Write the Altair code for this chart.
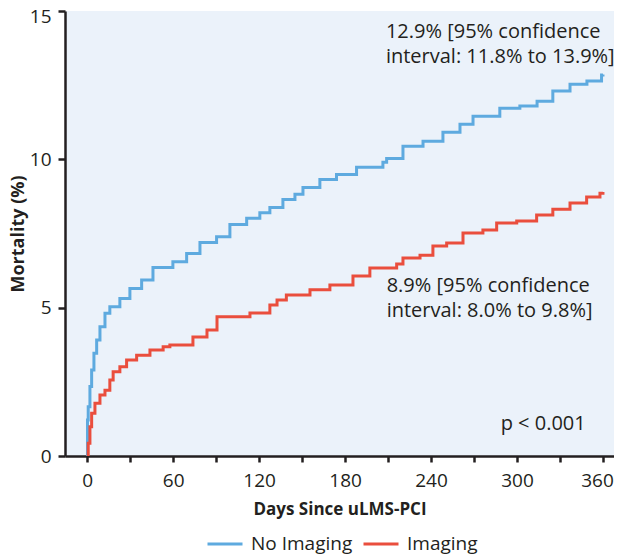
import altair as alt
import pandas as pd

# --- data ---
no_img_days = [0, 0.2, 0.7, 1.9, 3.1, 4.7, 6.6, 8.9, 12.4, 15.8, 22.8, 29.8, 38, 45.9, 59.8,
               69.4, 78.7, 90.3, 99.6, 111.3, 120.5, 127.5, 136.6, 145, 150.6, 162.4, 174, 188,
               206.4, 209, 220.4, 234.4, 248.3, 260.2, 269.3, 288, 302, 314, 325, 337, 348.8, 359, 360]
no_img_vals = [0, 1.21, 1.66, 2.34, 2.9, 3.46, 3.91, 4.36, 4.81, 5.03, 5.31, 5.65, 5.93, 6.35, 6.55,
               6.83, 7.2, 7.39, 7.8, 8.01, 8.2, 8.38, 8.65, 8.82, 9.05, 9.32, 9.49, 9.73,
               9.9, 10.03, 10.44, 10.61, 10.91, 11.18, 11.45, 11.72, 11.8, 11.96, 12.3, 12.53, 12.64, 12.84, 12.86]

img_days = [0, 0.7, 1.9, 3.1, 5.4, 8.9, 12.4, 15.8, 18.1, 22.8, 27.5, 34.5, 43.8, 53, 57.7,
            73.8, 83.6, 90.6, 113.6, 127.5, 132.5, 139, 155.5, 169.4, 185.5, 197.3, 216, 220.4,
            232.3, 241.3, 250.9, 262.3, 276.2, 285.8, 299.8, 313.7, 325, 337, 348.6, 357.9, 360]
img_vals = [0, 0.43, 0.99, 1.44, 1.78, 2.06, 2.22, 2.56, 2.84, 3.01, 3.24, 3.4, 3.57, 3.68, 3.74,
            4.01, 4.25, 4.69, 4.82, 5.09, 5.26, 5.43, 5.6, 5.76, 6.07, 6.34, 6.47, 6.67,
            6.77, 7.08, 7.18, 7.52, 7.62, 7.85, 7.92, 8.12, 8.32, 8.53, 8.73, 8.86, 8.9]

groups = ["No Imaging", "Imaging"]
colors = ["#5EAADF", "#EA4E3D"]
x_ticks = [0, 30, 60, 90, 120, 150, 180, 210, 240, 270, 300, 330, 360]
y_ticks = [0, 5, 10, 15]

ann_text = [
    ["12.9% [95% confidence", "interval: 11.8% to 13.9%]"],
    ["8.9% [95% confidence", "interval: 8.0% to 9.8%]"],
    ["p < 0.001"],
]
ann_day = [208.5, 209, 288.6]
ann_val = [14.09, 5.53, 0.88]

df = pd.concat([
    pd.DataFrame({"day": no_img_days, "mort": no_img_vals, "group": groups[0]}),
    pd.DataFrame({"day": img_days, "mort": img_vals, "group": groups[1]}),
])
ann = pd.DataFrame({"text": ann_text, "day": ann_day, "mort": ann_val})

FONT = "Open Sans"
TXT = "#231F20"

x_scale = alt.Scale(domain=[-15.5, 367.7], nice=False, zero=False)
y_scale = alt.Scale(domain=[0, 15], nice=False)

lines = alt.Chart(df).mark_line(interpolate="step-after", strokeWidth=3, clip=True).encode(
    x=alt.X("day:Q", scale=x_scale,
            axis=alt.Axis(values=x_ticks, title="Days Since uLMS-PCI",
                          labelExpr="datum.value % 60 == 0 ? datum.label : ''",
                          labelOffset={"condition": {"test": "datum.value == 360", "value": -6}, "value": 0},
                          grid=False, tickSize=6, tickWidth=2.5, tickColor=TXT,
                          domainColor=TXT, domainWidth=2.5, labelFontSize=19,
                          labelColor=TXT, labelFont=FONT, labelPadding=9,
                          titleFont=FONT, titleFontSize=17, titleFontWeight="bold",
                          titleColor=TXT, titlePadding=11)),
    y=alt.Y("mort:Q", scale=y_scale,
            axis=alt.Axis(values=y_ticks, title="Mortality (%)", grid=False,
                          labelOffset={"condition": {"test": "datum.value == 15", "value": 5}, "value": 0},
                          tickSize=7, tickWidth=2.5, tickColor=TXT,
                          domainColor=TXT, domainWidth=2.5, labelFontSize=19,
                          labelColor=TXT, labelFont=FONT, labelPadding=7,
                          titleFont=FONT, titleFontSize=18, titleFontWeight="bold",
                          titleColor=TXT, titlePadding=2)),
    color=alt.Color("group:N", scale=alt.Scale(domain=groups, range=colors),
                    legend=alt.Legend(title=None, orient="none", direction="horizontal",
                                      legendX=141, legendY=514, symbolType="stroke",
                                      symbolSize=1225, symbolStrokeWidth=3,
                                      labelFont=FONT, labelFontSize=19, labelColor=TXT,
                                      labelOffset=7, columnPadding=4, padding=0)),
    order=alt.Order("day:Q"),
)

texts = alt.Chart(ann).mark_text(align="left", baseline="alphabetic", font=FONT,
                                 fontSize=20, color=TXT, lineHeight=25).encode(
    x=alt.X("day:Q", scale=x_scale),
    y=alt.Y("mort:Q", scale=y_scale),
    text="text",
)

chart = alt.layer(lines, texts).properties(
    width=549, height=445,
    autosize=alt.AutoSizeParams(type="none"),
    padding={"left": 57, "top": 3, "right": 0, "bottom": 100},
).configure_view(fill="#EBF2FA", stroke=None)

chart.save("out.html", embed_options={"renderer": "svg", "actions": False})
